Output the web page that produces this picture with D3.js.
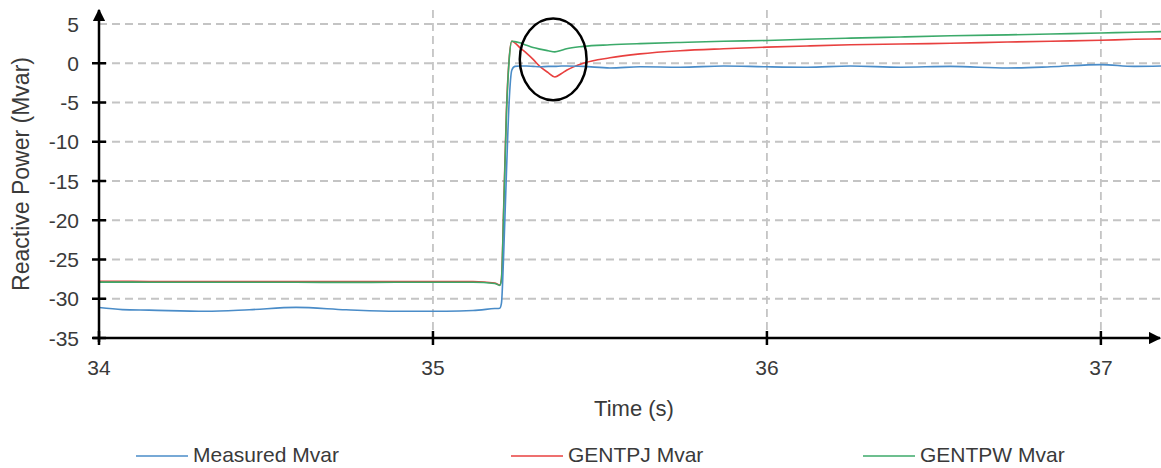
<!DOCTYPE html>
<html>
<head>
<meta charset="utf-8">
<script src="https://cdn.jsdelivr.net/npm/d3@7"></script>
<style>
  body { margin: 0; background: #fff; }
  text { font-family: "Liberation Sans", Arial, sans-serif; fill: #3a3a3a; }
</style>
</head>
<body>
<div id="chart"></div>
<script>
(function() {

    // time axis (s)
    var time = [34.00, 34.07, 34.15, 34.32, 34.45, 34.59, 34.74, 34.89, 35.04, 35.12,
                35.185, 35.20, 35.205, 35.212, 35.22, 35.228, 35.236, 35.245, 35.26, 35.28,
                35.30, 35.32, 35.345, 35.365, 35.385, 35.40, 35.45, 35.53, 35.62, 35.74,
                35.87, 36.00, 36.12, 36.25, 36.40, 36.55, 36.72, 36.85, 37.00, 37.10, 37.18];

    var measured = [-31.12, -31.38, -31.45, -31.6, -31.4, -31.1, -31.4, -31.6, -31.6, -31.5,
                    -31.25, -31.2, -30.6, -24, -14, -5, -0.9, -0.4, -0.35, -0.35,
                    -0.4, -0.45, -0.4, -0.4, -0.35, -0.35, -0.4, -0.6, -0.45, -0.5,
                    -0.35, -0.45, -0.5, -0.35, -0.5, -0.4, -0.6, -0.45, -0.17, -0.4, -0.35];

    var gentpj = [-27.78, -27.78, -27.8, -27.8, -27.8, -27.82, -27.82, -27.8, -27.8, -27.8,
                  -28.0, -28.25, -27.5, -18, -6, 0.5, 2.8, 2.6, 2.0, 1.3,
                  0.5, -0.4, -1.2, -1.75, -1.3, -0.9, 0, 0.7, 1.2, 1.6,
                  1.85, 2.05, 2.2, 2.35, 2.45, 2.55, 2.7, 2.8, 2.93, 3.05, 3.1];

    var gentpw = [-27.88, -27.88, -27.9, -27.9, -27.9, -27.9, -27.92, -27.9, -27.9, -27.9,
                  -28.05, -28.3, -27.6, -18.5, -6.5, 0.3, 2.8, 2.75, 2.6, 2.3,
                  2.0, 1.8, 1.6, 1.45, 1.65, 1.85, 2.15, 2.35, 2.5, 2.65,
                  2.8, 2.9, 3.05, 3.2, 3.35, 3.5, 3.62, 3.72, 3.86, 3.95, 4.03];

    var seriesNames = ["Measured Mvar", "GENTPJ Mvar", "GENTPW Mvar"];
    var seriesColors = ["#4a8cc8", "#e8403f", "#3caa6a"];
    var xTicks = [34, 35, 36, 37];
    var yTicks = [5, 0, -5, -10, -15, -20, -25, -30, -35];

    var width = 1161;
    var height = 468;

    var svg = d3.select("#chart").append("svg")
        .attr("width", width)
        .attr("height", height);

    var x = d3.scaleLinear().domain([34, 37.18]).range([99, 1161]);
    var y = d3.scaleLinear().domain([-35, 5]).range([338, 24]);

    // grid lines
    svg.append("g").selectAll("line.hgrid")
        .data(yTicks.filter(function(d) { return d > -35; }))
        .enter().append("line")
        .attr("x1", x(34)).attr("x2", width)
        .attr("y1", function(d) { return y(d); })
        .attr("y2", function(d) { return y(d); })
        .attr("stroke", "#c4c4c4")
        .attr("stroke-width", 1.8)
        .attr("stroke-dasharray", "8,5");

    svg.append("g").selectAll("line.vgrid")
        .data(xTicks.filter(function(d) { return d > 34; }))
        .enter().append("line")
        .attr("x1", function(d) { return x(d); })
        .attr("x2", function(d) { return x(d); })
        .attr("y1", 10).attr("y2", y(-35))
        .attr("stroke", "#c4c4c4")
        .attr("stroke-width", 1.8)
        .attr("stroke-dasharray", "8,5");

    // series
    var series = [measured, gentpj, gentpw];
    var line = d3.line()
        .x(function(d, i) { return x(time[i]); })
        .y(function(d) { return y(d); })
        .curve(d3.curveMonotoneX);

    svg.append("g").selectAll("path")
        .data([gentpj, gentpw, measured])
        .enter().append("path")
        .attr("d", line)
        .attr("fill", "none")
        .attr("stroke", function(d) { return seriesColors[series.indexOf(d)]; })
        .attr("stroke-width", 1.6);

    // axes with arrows
    var defs = svg.append("defs");
    defs.append("marker")
        .attr("id", "arrow")
        .attr("viewBox", "0 0 10 10")
        .attr("refX", 9).attr("refY", 5)
        .attr("markerWidth", 5).attr("markerHeight", 5)
        .attr("orient", "auto")
        .append("path")
        .attr("d", "M0,0 L10,5 L0,10 z")
        .attr("fill", "#000");

    svg.append("line")
        .attr("x1", x(34)).attr("x2", x(34))
        .attr("y1", y(-35) + 4).attr("y2", 10)
        .attr("stroke", "#000").attr("stroke-width", 2.5)
        .attr("marker-end", "url(#arrow)");

    svg.append("line")
        .attr("x1", x(34) - 6).attr("x2", width - 1)
        .attr("y1", y(-35)).attr("y2", y(-35))
        .attr("stroke", "#000").attr("stroke-width", 2.5)
        .attr("marker-end", "url(#arrow)");

    // tick marks
    svg.append("g").selectAll("line")
        .data(yTicks.filter(function(d) { return d < 5; }))
        .enter().append("line")
        .attr("x1", x(34) - 7).attr("x2", x(34) + 7)
        .attr("y1", function(d) { return y(d); })
        .attr("y2", function(d) { return y(d); })
        .attr("stroke", "#000").attr("stroke-width", 2.5);

    svg.append("g").selectAll("line")
        .data(xTicks)
        .enter().append("line")
        .attr("x1", function(d) { return x(d); })
        .attr("x2", function(d) { return x(d); })
        .attr("y1", y(-35) - 7).attr("y2", y(-35) + 7)
        .attr("stroke", "#000").attr("stroke-width", 2.5);

    // tick labels
    svg.append("g").selectAll("text")
        .data(yTicks)
        .enter().append("text")
        .attr("x", 79)
        .attr("y", function(d) { return y(d); })
        .attr("dy", "0.36em")
        .attr("text-anchor", "end")
        .attr("font-size", 21)
        .text(function(d) { return d; });

    svg.append("g").selectAll("text")
        .data(xTicks)
        .enter().append("text")
        .attr("x", function(d) { return x(d); })
        .attr("y", 367)
        .attr("dy", "0.36em")
        .attr("text-anchor", "middle")
        .attr("font-size", 21)
        .text(function(d) { return d; });

    // axis titles
    svg.append("text")
        .attr("transform", "translate(29,174) rotate(-90)")
        .attr("text-anchor", "middle")
        .attr("font-size", 23)
        .text("Reactive Power (Mvar)");

    svg.append("text")
        .attr("x", 634).attr("y", 408)
        .attr("dy", "0.36em")
        .attr("text-anchor", "middle")
        .attr("font-size", 22)
        .text("Time (s)");

    // highlight ellipse
    svg.append("ellipse")
        .attr("cx", x(35.36)).attr("cy", y(0.5))
        .attr("rx", x(35.36) - x(35.26))
        .attr("ry", y(-4.7) - y(0.5))
        .attr("fill", "none")
        .attr("stroke", "#000")
        .attr("stroke-width", 2.5);

    // legend
    var legendX = [136, 511, 863];
    var legend = svg.append("g").selectAll("g")
        .data(seriesNames)
        .enter().append("g")
        .attr("transform", function(d, i) { return "translate(" + legendX[i] + ",454)"; });
    legend.append("line")
        .attr("x1", 0).attr("x2", 52)
        .attr("y1", 2).attr("y2", 2)
        .attr("stroke", function(d, i) { return seriesColors[i]; })
        .attr("stroke-width", 1.6);
    legend.append("text")
        .attr("x", 57)
        .attr("dy", "0.36em")
        .attr("font-size", 21)
        .text(function(d) { return d; });

})();
</script>
</body>
</html>
